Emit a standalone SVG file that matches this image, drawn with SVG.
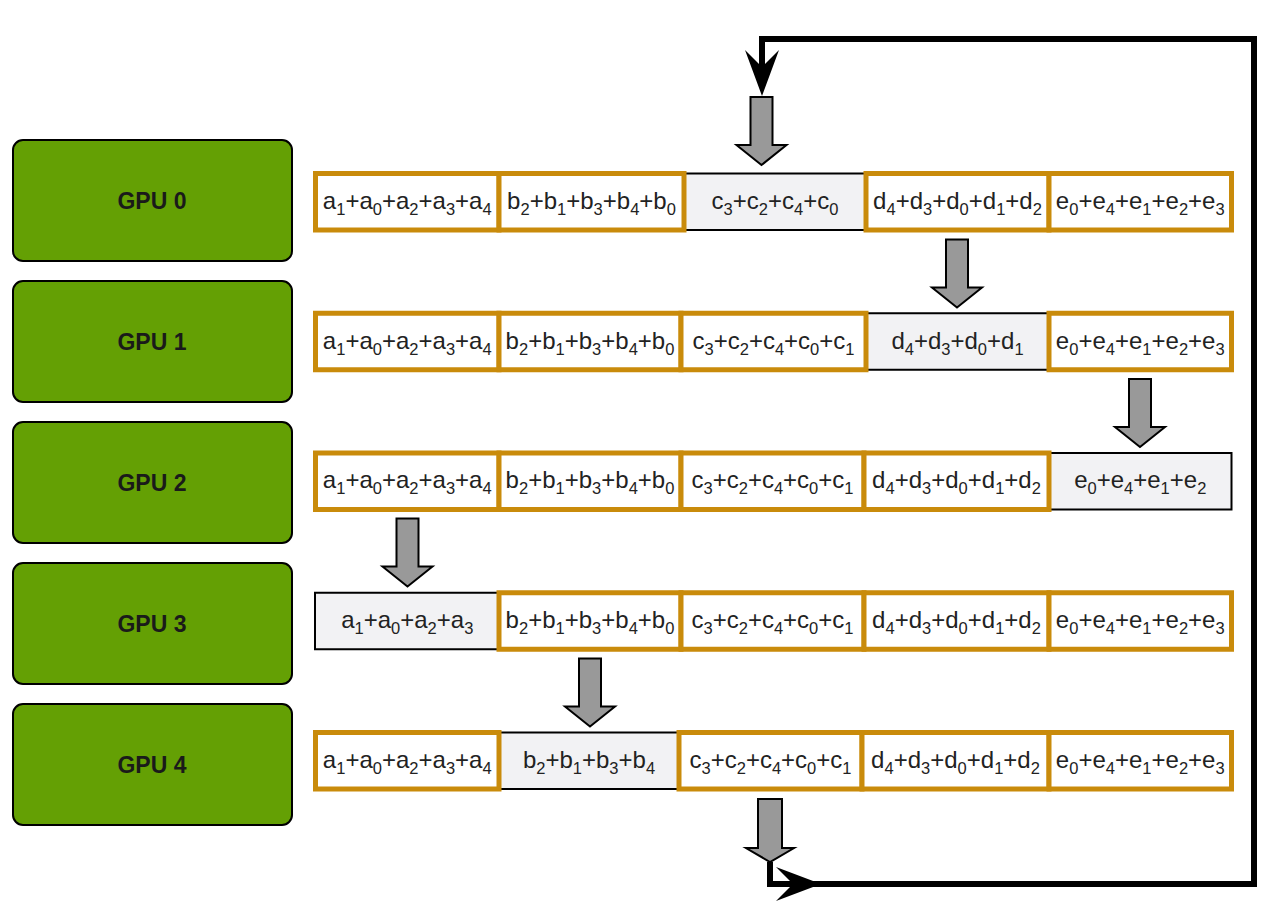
<svg xmlns="http://www.w3.org/2000/svg" xmlns:xlink="http://www.w3.org/1999/xlink" width="1276" height="910" viewBox="0 0 1276 910">
<style>
.gpu{fill:#64A004;stroke:#000;stroke-width:2}
.gl{font-family:"Liberation Sans",Arial,sans-serif;font-weight:bold;font-size:23px;fill:#1a1a1a;text-anchor:middle}
.oc{fill:#fff;stroke:#C98B0B;stroke-width:5}
.gc{fill:#F2F2F4;stroke:#000;stroke-width:2}
.t{font-family:"Liberation Sans",Arial,sans-serif;font-size:24px;fill:#222;text-anchor:middle}
.s{font-size:16.5px}
.blk{fill:#999;stroke:#000;stroke-width:2;stroke-linejoin:miter}
.ln{fill:none;stroke:#000;stroke-width:6;stroke-linejoin:miter}
</style>
<defs>
<path id="ba" d="M-11,0 H11 V48 H25 L0,68 L-25,48 H-11 Z"/>
<path id="bb" d="M-12,0 H12 V49 H24 L0,63 L-24,49 H-12 Z"/>
</defs>
<rect width="1276" height="910" fill="#fff"/>

<g id="gpu0"><rect class="gpu" x="13" y="140" width="279" height="121" rx="10"/><text class="gl" x="152" y="209">GPU 0</text></g>
<g id="gpu1"><rect class="gpu" x="13" y="281" width="279" height="121" rx="10"/><text class="gl" x="152" y="350">GPU 1</text></g>
<g id="gpu2"><rect class="gpu" x="13" y="422" width="279" height="121" rx="10"/><text class="gl" x="152" y="491">GPU 2</text></g>
<g id="gpu3"><rect class="gpu" x="13" y="563" width="279" height="121" rx="10"/><text class="gl" x="152" y="632">GPU 3</text></g>
<g id="gpu4"><rect class="gpu" x="13" y="704" width="279" height="121" rx="10"/><text class="gl" x="152" y="773">GPU 4</text></g>

<!-- Row 0 -->
<g id="r0c"><rect class="gc" x="684" y="173.5" width="182" height="56.5"/><text class="t" x="775" y="208.75">c<tspan class="s" dy="6">3</tspan><tspan dy="-6">+c</tspan><tspan class="s" dy="6">2</tspan><tspan dy="-6">+c</tspan><tspan class="s" dy="6">4</tspan><tspan dy="-6">+c</tspan><tspan class="s" dy="6">0</tspan></text></g>
<g id="r0a"><rect class="oc" x="315.5" y="173.5" width="183.5" height="56.5"/><text class="t" x="407.25" y="208.75">a<tspan class="s" dy="6">1</tspan><tspan dy="-6">+a</tspan><tspan class="s" dy="6">0</tspan><tspan dy="-6">+a</tspan><tspan class="s" dy="6">2</tspan><tspan dy="-6">+a</tspan><tspan class="s" dy="6">3</tspan><tspan dy="-6">+a</tspan><tspan class="s" dy="6">4</tspan></text></g>
<g id="r0b"><rect class="oc" x="499" y="173.5" width="185" height="56.5"/><text class="t" x="591.5" y="208.75">b<tspan class="s" dy="6">2</tspan><tspan dy="-6">+b</tspan><tspan class="s" dy="6">1</tspan><tspan dy="-6">+b</tspan><tspan class="s" dy="6">3</tspan><tspan dy="-6">+b</tspan><tspan class="s" dy="6">4</tspan><tspan dy="-6">+b</tspan><tspan class="s" dy="6">0</tspan></text></g>
<g id="r0d"><rect class="oc" x="866" y="173.5" width="183" height="56.5"/><text class="t" x="957.5" y="208.75">d<tspan class="s" dy="6">4</tspan><tspan dy="-6">+d</tspan><tspan class="s" dy="6">3</tspan><tspan dy="-6">+d</tspan><tspan class="s" dy="6">0</tspan><tspan dy="-6">+d</tspan><tspan class="s" dy="6">1</tspan><tspan dy="-6">+d</tspan><tspan class="s" dy="6">2</tspan></text></g>
<g id="r0e"><rect class="oc" x="1049" y="173.5" width="182.5" height="56.5"/><text class="t" x="1140.25" y="208.75">e<tspan class="s" dy="6">0</tspan><tspan dy="-6">+e</tspan><tspan class="s" dy="6">4</tspan><tspan dy="-6">+e</tspan><tspan class="s" dy="6">1</tspan><tspan dy="-6">+e</tspan><tspan class="s" dy="6">2</tspan><tspan dy="-6">+e</tspan><tspan class="s" dy="6">3</tspan></text></g>

<!-- Row 1 -->
<g id="r1d"><rect class="gc" x="866" y="313.25" width="183" height="56.5"/><text class="t" x="957.5" y="348.5">d<tspan class="s" dy="6">4</tspan><tspan dy="-6">+d</tspan><tspan class="s" dy="6">3</tspan><tspan dy="-6">+d</tspan><tspan class="s" dy="6">0</tspan><tspan dy="-6">+d</tspan><tspan class="s" dy="6">1</tspan></text></g>
<g id="r1a"><rect class="oc" x="315.5" y="313.25" width="183.5" height="56.5"/><text class="t" x="407.25" y="348.5">a<tspan class="s" dy="6">1</tspan><tspan dy="-6">+a</tspan><tspan class="s" dy="6">0</tspan><tspan dy="-6">+a</tspan><tspan class="s" dy="6">2</tspan><tspan dy="-6">+a</tspan><tspan class="s" dy="6">3</tspan><tspan dy="-6">+a</tspan><tspan class="s" dy="6">4</tspan></text></g>
<g id="r1b"><rect class="oc" x="499" y="313.25" width="182" height="56.5"/><text class="t" x="590" y="348.5">b<tspan class="s" dy="6">2</tspan><tspan dy="-6">+b</tspan><tspan class="s" dy="6">1</tspan><tspan dy="-6">+b</tspan><tspan class="s" dy="6">3</tspan><tspan dy="-6">+b</tspan><tspan class="s" dy="6">4</tspan><tspan dy="-6">+b</tspan><tspan class="s" dy="6">0</tspan></text></g>
<g id="r1c"><rect class="oc" x="681" y="313.25" width="185" height="56.5"/><text class="t" x="773.5" y="348.5">c<tspan class="s" dy="6">3</tspan><tspan dy="-6">+c</tspan><tspan class="s" dy="6">2</tspan><tspan dy="-6">+c</tspan><tspan class="s" dy="6">4</tspan><tspan dy="-6">+c</tspan><tspan class="s" dy="6">0</tspan><tspan dy="-6">+c</tspan><tspan class="s" dy="6">1</tspan></text></g>
<g id="r1e"><rect class="oc" x="1049" y="313.25" width="182.5" height="56.5"/><text class="t" x="1140.25" y="348.5">e<tspan class="s" dy="6">0</tspan><tspan dy="-6">+e</tspan><tspan class="s" dy="6">4</tspan><tspan dy="-6">+e</tspan><tspan class="s" dy="6">1</tspan><tspan dy="-6">+e</tspan><tspan class="s" dy="6">2</tspan><tspan dy="-6">+e</tspan><tspan class="s" dy="6">3</tspan></text></g>

<!-- Row 2 -->
<g id="r2e"><rect class="gc" x="1049" y="453" width="182.5" height="56.5"/><text class="t" x="1140.25" y="488.25">e<tspan class="s" dy="6">0</tspan><tspan dy="-6">+e</tspan><tspan class="s" dy="6">4</tspan><tspan dy="-6">+e</tspan><tspan class="s" dy="6">1</tspan><tspan dy="-6">+e</tspan><tspan class="s" dy="6">2</tspan></text></g>
<g id="r2a"><rect class="oc" x="315.5" y="453" width="183.5" height="56.5"/><text class="t" x="407.25" y="488.25">a<tspan class="s" dy="6">1</tspan><tspan dy="-6">+a</tspan><tspan class="s" dy="6">0</tspan><tspan dy="-6">+a</tspan><tspan class="s" dy="6">2</tspan><tspan dy="-6">+a</tspan><tspan class="s" dy="6">3</tspan><tspan dy="-6">+a</tspan><tspan class="s" dy="6">4</tspan></text></g>
<g id="r2b"><rect class="oc" x="499" y="453" width="182" height="56.5"/><text class="t" x="590" y="488.25">b<tspan class="s" dy="6">2</tspan><tspan dy="-6">+b</tspan><tspan class="s" dy="6">1</tspan><tspan dy="-6">+b</tspan><tspan class="s" dy="6">3</tspan><tspan dy="-6">+b</tspan><tspan class="s" dy="6">4</tspan><tspan dy="-6">+b</tspan><tspan class="s" dy="6">0</tspan></text></g>
<g id="r2c"><rect class="oc" x="681" y="453" width="183" height="56.5"/><text class="t" x="772.5" y="488.25">c<tspan class="s" dy="6">3</tspan><tspan dy="-6">+c</tspan><tspan class="s" dy="6">2</tspan><tspan dy="-6">+c</tspan><tspan class="s" dy="6">4</tspan><tspan dy="-6">+c</tspan><tspan class="s" dy="6">0</tspan><tspan dy="-6">+c</tspan><tspan class="s" dy="6">1</tspan></text></g>
<g id="r2d"><rect class="oc" x="864" y="453" width="185" height="56.5"/><text class="t" x="956.5" y="488.25">d<tspan class="s" dy="6">4</tspan><tspan dy="-6">+d</tspan><tspan class="s" dy="6">3</tspan><tspan dy="-6">+d</tspan><tspan class="s" dy="6">0</tspan><tspan dy="-6">+d</tspan><tspan class="s" dy="6">1</tspan><tspan dy="-6">+d</tspan><tspan class="s" dy="6">2</tspan></text></g>

<!-- Row 3 -->
<g id="r3a"><rect class="gc" x="315" y="592.75" width="184" height="56.5"/><text class="t" x="407.25" y="628">a<tspan class="s" dy="6">1</tspan><tspan dy="-6">+a</tspan><tspan class="s" dy="6">0</tspan><tspan dy="-6">+a</tspan><tspan class="s" dy="6">2</tspan><tspan dy="-6">+a</tspan><tspan class="s" dy="6">3</tspan></text></g>
<g id="r3b"><rect class="oc" x="499" y="592.75" width="182" height="56.5"/><text class="t" x="590" y="628">b<tspan class="s" dy="6">2</tspan><tspan dy="-6">+b</tspan><tspan class="s" dy="6">1</tspan><tspan dy="-6">+b</tspan><tspan class="s" dy="6">3</tspan><tspan dy="-6">+b</tspan><tspan class="s" dy="6">4</tspan><tspan dy="-6">+b</tspan><tspan class="s" dy="6">0</tspan></text></g>
<g id="r3c"><rect class="oc" x="681" y="592.75" width="183" height="56.5"/><text class="t" x="772.5" y="628">c<tspan class="s" dy="6">3</tspan><tspan dy="-6">+c</tspan><tspan class="s" dy="6">2</tspan><tspan dy="-6">+c</tspan><tspan class="s" dy="6">4</tspan><tspan dy="-6">+c</tspan><tspan class="s" dy="6">0</tspan><tspan dy="-6">+c</tspan><tspan class="s" dy="6">1</tspan></text></g>
<g id="r3d"><rect class="oc" x="864" y="592.75" width="185" height="56.5"/><text class="t" x="956.5" y="628">d<tspan class="s" dy="6">4</tspan><tspan dy="-6">+d</tspan><tspan class="s" dy="6">3</tspan><tspan dy="-6">+d</tspan><tspan class="s" dy="6">0</tspan><tspan dy="-6">+d</tspan><tspan class="s" dy="6">1</tspan><tspan dy="-6">+d</tspan><tspan class="s" dy="6">2</tspan></text></g>
<g id="r3e"><rect class="oc" x="1049" y="592.75" width="182.5" height="56.5"/><text class="t" x="1140.25" y="628">e<tspan class="s" dy="6">0</tspan><tspan dy="-6">+e</tspan><tspan class="s" dy="6">4</tspan><tspan dy="-6">+e</tspan><tspan class="s" dy="6">1</tspan><tspan dy="-6">+e</tspan><tspan class="s" dy="6">2</tspan><tspan dy="-6">+e</tspan><tspan class="s" dy="6">3</tspan></text></g>

<!-- Row 4 -->
<g id="r4b"><rect class="gc" x="499" y="732.5" width="180" height="56.5"/><text class="t" x="589" y="767.75">b<tspan class="s" dy="6">2</tspan><tspan dy="-6">+b</tspan><tspan class="s" dy="6">1</tspan><tspan dy="-6">+b</tspan><tspan class="s" dy="6">3</tspan><tspan dy="-6">+b</tspan><tspan class="s" dy="6">4</tspan></text></g>
<g id="r4a"><rect class="oc" x="315.5" y="732.5" width="183.5" height="56.5"/><text class="t" x="407.25" y="767.75">a<tspan class="s" dy="6">1</tspan><tspan dy="-6">+a</tspan><tspan class="s" dy="6">0</tspan><tspan dy="-6">+a</tspan><tspan class="s" dy="6">2</tspan><tspan dy="-6">+a</tspan><tspan class="s" dy="6">3</tspan><tspan dy="-6">+a</tspan><tspan class="s" dy="6">4</tspan></text></g>
<g id="r4c"><rect class="oc" x="679" y="732.5" width="183" height="56.5"/><text class="t" x="770.5" y="767.75">c<tspan class="s" dy="6">3</tspan><tspan dy="-6">+c</tspan><tspan class="s" dy="6">2</tspan><tspan dy="-6">+c</tspan><tspan class="s" dy="6">4</tspan><tspan dy="-6">+c</tspan><tspan class="s" dy="6">0</tspan><tspan dy="-6">+c</tspan><tspan class="s" dy="6">1</tspan></text></g>
<g id="r4d"><rect class="oc" x="862" y="732.5" width="187" height="56.5"/><text class="t" x="955.5" y="767.75">d<tspan class="s" dy="6">4</tspan><tspan dy="-6">+d</tspan><tspan class="s" dy="6">3</tspan><tspan dy="-6">+d</tspan><tspan class="s" dy="6">0</tspan><tspan dy="-6">+d</tspan><tspan class="s" dy="6">1</tspan><tspan dy="-6">+d</tspan><tspan class="s" dy="6">2</tspan></text></g>
<g id="r4e"><rect class="oc" x="1049" y="732.5" width="182.5" height="56.5"/><text class="t" x="1140.25" y="767.75">e<tspan class="s" dy="6">0</tspan><tspan dy="-6">+e</tspan><tspan class="s" dy="6">4</tspan><tspan dy="-6">+e</tspan><tspan class="s" dy="6">1</tspan><tspan dy="-6">+e</tspan><tspan class="s" dy="6">2</tspan><tspan dy="-6">+e</tspan><tspan class="s" dy="6">3</tspan></text></g>

<!-- block arrows -->
<g id="arrow0"><use xlink:href="#ba" class="blk" transform="translate(761.5,97)"/></g>
<g id="arrow1"><use xlink:href="#ba" class="blk" transform="translate(957,239.5)"/></g>
<g id="arrow2"><use xlink:href="#ba" class="blk" transform="translate(1140,379)"/></g>
<g id="arrow3"><use xlink:href="#ba" class="blk" transform="translate(407.5,518.5)"/></g>
<g id="arrow4"><use xlink:href="#ba" class="blk" transform="translate(590,658.5)"/></g>
<g id="arrow5"><use xlink:href="#bb" class="blk" transform="translate(770,799)"/></g>

<g id="connectors">
<path class="ln" d="M770,862 V884 H1254 V39 H762 V72"/>
<path d="M762,96 L745,50 L762,67 L779,50 Z" fill="#000"/>
<path d="M821,884 L776,867 L793,884 L776,901 Z" fill="#000"/>
</g>
</svg>
